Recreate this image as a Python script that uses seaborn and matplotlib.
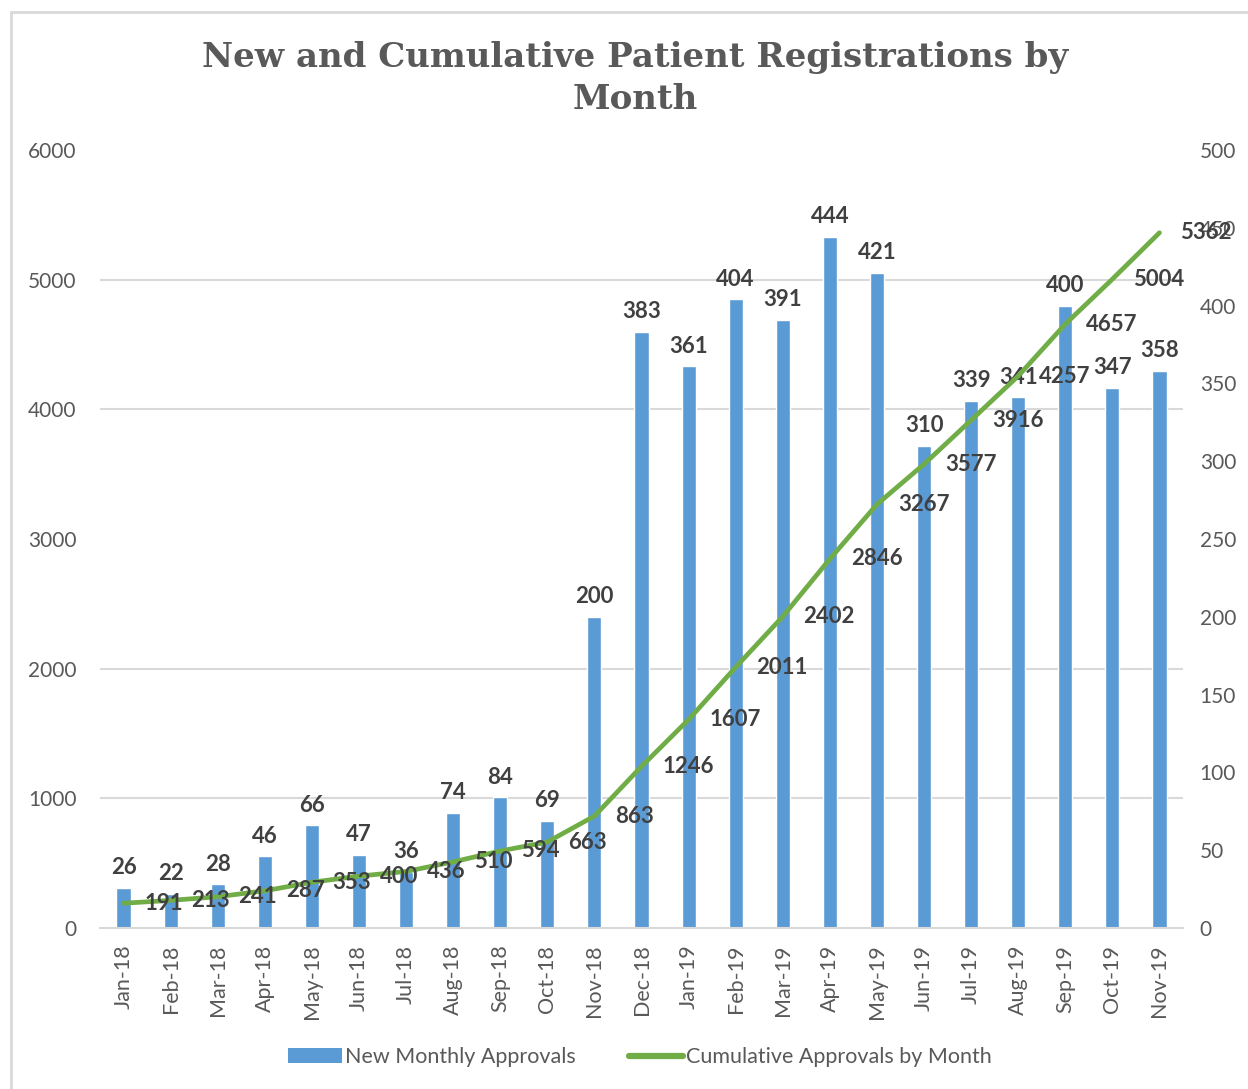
import numpy as np
import matplotlib
matplotlib.use('Agg')
import matplotlib.pyplot as plt
from matplotlib.patches import Patch
from matplotlib.lines import Line2D
import seaborn as sns

# chart data
months = ['Jan-18', 'Feb-18', 'Mar-18', 'Apr-18', 'May-18', 'Jun-18', 'Jul-18', 'Aug-18',
          'Sep-18', 'Oct-18', 'Nov-18', 'Dec-18', 'Jan-19', 'Feb-19', 'Mar-19', 'Apr-19',
          'May-19', 'Jun-19', 'Jul-19', 'Aug-19', 'Sep-19', 'Oct-19', 'Nov-19']
new_approvals = [26, 22, 28, 46, 66, 47, 36, 74, 84, 69, 200, 383, 361, 404, 391, 444,
                 421, 310, 339, 341, 400, 347, 358]
cumulative = [191, 213, 241, 287, 353, 400, 436, 510, 594, 663, 863, 1246, 1607, 2011,
              2402, 2846, 3267, 3577, 3916, 4257, 4657, 5004, 5362]

sns.set_style('white')
plt.rcParams['font.family'] = ['Lato', 'DejaVu Sans']

BLUE = '#5B9BD5'
GREEN = '#70AD47'
GRAY = '#595959'
DARK = '#404040'
GRID = '#D9D9D9'

fig = plt.figure(figsize=(12.48, 10.89), dpi=100)
W, H = 1248, 1089
ax = fig.add_axes([100 / W, (H - 928) / H, 1083 / W, 778 / H])

# bars on the right-hand scale
sns.barplot(x=months, y=new_approvals, color=BLUE, width=0.3, saturation=1, ax=ax, zorder=2)
ax.set_ylim(0, 500)
ax.set_xlim(-0.5, len(months) - 0.5)
ax.set_xlabel('')
ax.set_ylabel('')
for s in ['top', 'left', 'right']:
    ax.spines[s].set_visible(False)
ax.spines['bottom'].set_color(GRID)
ax.spines['bottom'].set_linewidth(1.5)
ax.bar_label(ax.containers[0], fontsize=16, fontweight='bold', color=DARK, padding=7)

# cumulative line on the left-hand scale
ax2 = ax.twinx()
xpos = np.arange(len(months))
sns.lineplot(x=xpos, y=cumulative, color=GREEN, linewidth=3.4, ax=ax2,
             solid_capstyle='round', solid_joinstyle='round')
ax2.set_ylim(0, 6000)
ax2.yaxis.tick_left()
ax2.set_yticks(np.arange(0, 6001, 1000))
ax2.tick_params(axis='y', length=0, pad=17, labelsize=15, labelcolor=GRAY)
ax2.set_ylabel('')
for s in ax2.spines.values():
    s.set_visible(False)
for x, v in zip(xpos, cumulative):
    ax2.annotate(f'{v}', (x, v), xytext=(15, 0), textcoords='offset points',
                 ha='left', va='center', fontsize=16, fontweight='bold', color=DARK)

# right axis ticks for the bars (set after twinx, which moves them)
ax.yaxis.tick_right()
ax.set_yticks(np.arange(0, 501, 50))
ax.tick_params(axis='y', which='major', length=0, pad=12, labelsize=15, labelcolor=GRAY)
ax.tick_params(axis='x', which='major', length=0, pad=12, labelsize=15.5, labelcolor=GRAY,
               labelrotation=90)
ax.set_xticks(np.arange(-0.5, len(months), 1), minor=True)
ax.tick_params(axis='x', which='minor', length=9, width=1.5, color=GRID, direction='out')
# gridlines follow the left-hand scale (every 1000)
ax.set_yticks(np.arange(0, 6001, 1000) * 500 / 6000, minor=True)
ax.tick_params(axis='y', which='minor', length=0, labelright=False, labelleft=False)
ax.grid(axis='y', which='minor', color=GRID, linewidth=1.5, zorder=0)
ax.grid(axis='y', which='major', visible=False)
ax.set_axisbelow(True)

# title
fig.text(635 / W, 1 - 67 / H, 'New and Cumulative Patient Registrations by',
         ha='center', va='baseline', fontsize=24.5, fontweight='bold', color=GRAY,
         family='DejaVu Serif')
fig.text(635 / W, 1 - 109 / H, 'Month',
         ha='center', va='baseline', fontsize=24.5, fontweight='bold', color=GRAY,
         family='DejaVu Serif')

# legend
handles = [Patch(facecolor=BLUE, edgecolor='none'),
           Line2D([0], [0], color=GREEN, linewidth=4.5, solid_capstyle='round')]
fig.legend(handles, ['New Monthly Approvals', 'Cumulative Approvals by Month'],
           loc='center', bbox_to_anchor=(640 / W, 1 - 1057 / H), ncol=2, frameon=False,
           fontsize=15.5, labelcolor=GRAY, handlelength=2.5, handleheight=0.65,
           handletextpad=0.15, columnspacing=2.5)

# chart border
fig.add_artist(Line2D([11 / W, 11 / W], [0, 1 - 12 / H], transform=fig.transFigure,
                      color=GRID, linewidth=2))
fig.add_artist(Line2D([11 / W, 1], [1 - 12 / H, 1 - 12 / H], transform=fig.transFigure,
                      color=GRID, linewidth=2))

fig.savefig('out.png', dpi=100)
plt.close(fig)
